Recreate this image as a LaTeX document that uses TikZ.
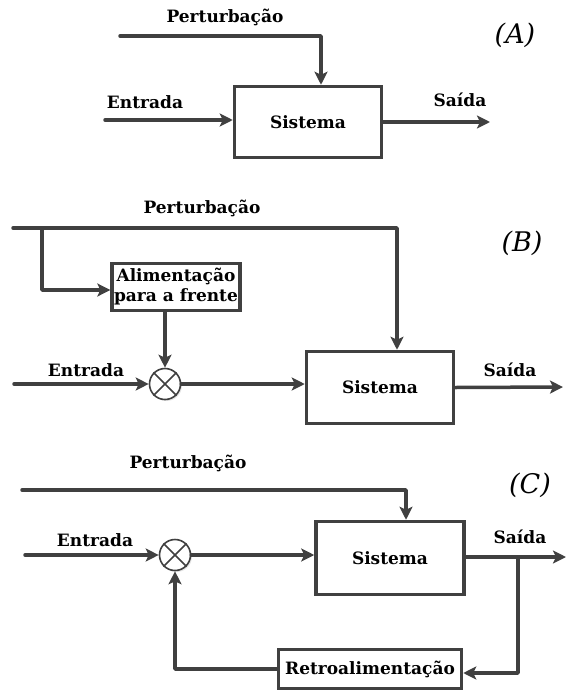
\documentclass[tikz,border=0pt]{standalone}
\usepackage{fontspec}
\setmainfont{DejaVu Serif}
\usetikzlibrary{positioning, arrows.meta, shadows}
\definecolor{linha}{HTML}{404040}

\begin{document}
\begin{tikzpicture}[x=1pt,y=-1pt,
  >={Stealth[length=13pt,width=13pt,inset=3pt]},
  flow/.style={draw=linha,line width=3.5pt,line cap=round,line join=round},
  block/.style={draw=linha,line width=3.5pt,fill=white,align=center,inner sep=2pt,
                font=\fontsize{17}{20}\bfseries\selectfont},
  sum/.style={circle,draw=linha,line width=1.6pt,fill=white,minimum size=31pt,inner sep=0pt,
              drop shadow={shadow xshift=1.5pt,shadow yshift=-1.5pt,opacity=0.2}},
  lbl/.style={font=\fontsize{17}{20}\bfseries\selectfont},
  tag/.style={font=\fontsize{27}{32}\itshape\selectfont}]
  \useasboundingbox (0,0) rectangle (566,691);

  % (A): sistema em malha aberta
  \node[block,minimum width=147pt,minimum height=71pt] (sA) at (308,122) {Sistema};
  \coordinate (pA) at (120,36);
  \coordinate (eA) at (105,120);
  \coordinate (oA) at (490,122);
  \node[lbl] (tpA) at (225,17) {Perturbação};
  \node[lbl] (teA) at (145,102) {Entrada};
  \node[lbl] (toA) at (460,100) {Saída};
  \node[tag] (tagA) at (515,35) {(A)};

  \draw[flow,->] (pA) -| ([xshift=13pt]sA.north);
  \draw[flow,->] (eA) -- (eA -| sA.west);
  \draw[flow,->] (sA.east) -- (oA);

  % (B): alimentação para a frente
  \node[block,minimum width=147pt,minimum height=72pt] (sB) at (380,387.5) {Sistema};
  \node[block,minimum width=125pt,minimum height=47pt] (ffB) at (176,287)
       {Alimentação\\para a frente};
  \node[sum] (mB) at (165,384) {};
  \coordinate (pB) at (13,228);
  \coordinate (jB) at (42,228);
  \coordinate (eB) at (14,384);
  \coordinate (oB) at (563,387);
  \node[lbl] (tpB) at (202,208) {Perturbação};
  \node[lbl] (teB) at (86,370) {Entrada};
  \node[lbl] (toB) at (510,370) {Saída};
  \node[tag] (tagB) at (522,243) {(B)};

  \draw[flow,->] (pB) -| ([xshift=17pt]sB.north);
  \draw[flow,->] (jB) |- ([yshift=-3pt]ffB.west);
  \draw[flow,->] (ffB.south -| mB) -- (mB.north);
  \draw[flow,->] (eB) -- (mB.west);
  \draw[flow,->] (mB.east) -- (mB -| sB.west);
  \draw[flow,->] (sB.east) -- (oB);
  \draw[linha,line width=1.6pt] (mB.north west) -- (mB.south east)
                                (mB.north east) -- (mB.south west);

  % (C): retroalimentação
  \node[block,minimum width=148pt,minimum height=73pt] (sC) at (390,558) {Sistema};
  \node[block,minimum width=183pt,minimum height=39pt] (rC) at (370,669) {Retroalimentação};
  \node[sum] (mC) at (175,555) {};
  \coordinate (pC) at (22,490);
  \coordinate (eC) at (25,555);
  \coordinate (bC) at (518,557);
  \coordinate (oC) at (566,557);
  \node[lbl] (tpC) at (188,463) {Perturbação};
  \node[lbl] (teC) at (95,540) {Entrada};
  \node[lbl] (toC) at (520,537) {Saída};
  \node[tag] (tagC) at (530,485) {(C)};

  \draw[flow,->] (pC) -| ([xshift=16pt]sC.north);
  \draw[flow,->] (eC) -- (mC.west);
  \draw[flow,->] (mC.east) -- (mC -| sC.west);
  \draw[flow,->] (sC.east |- bC) -- (oC);
  \draw[flow,->] (bC) |- ([yshift=-4pt]rC.east);
  \draw[flow,->] (rC.west) -| (mC.south);
  \draw[linha,line width=1.6pt] (mC.north west) -- (mC.south east)
                                (mC.north east) -- (mC.south west);
\end{tikzpicture}
\end{document}
